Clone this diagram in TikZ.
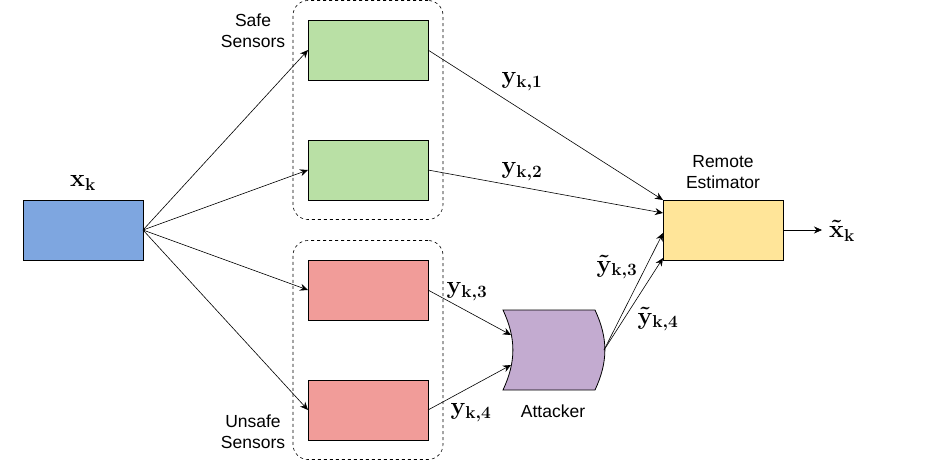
\documentclass[tikz,border=0pt]{standalone}
\usepackage{amsmath}
\usepackage{fontspec}
\usepackage{tikz}
\newfontfamily\blockfont{Liberation Sans}
\usetikzlibrary{arrows.meta}
\definecolor{statecol}{HTML}{7EA6E0}
\definecolor{safecol}{HTML}{B9E0A5}
\definecolor{unsafecol}{HTML}{F19C99}
\definecolor{attackcol}{HTML}{C3ABD0}
\definecolor{estcol}{HTML}{FFE599}
\tikzstyle{block}=[draw, line width=0.8pt, inner sep=0, outer sep=0, minimum width=120pt, minimum height=60pt]
\tikzstyle{safe}=[block, fill=safecol]
\tikzstyle{unsafe}=[block, fill=unsafecol]
\tikzstyle{sensorgroup}=[draw, dashed, rounded corners=15pt, line width=0.6pt, inner sep=0, minimum width=150pt, minimum height=219pt]
\tikzstyle{signal}=[-{Stealth[length=8pt, width=7pt]}, line width=0.6pt]
\tikzstyle{blocklabel}=[font=\blockfont\fontsize{17.5}{21}\selectfont, align=center, inner sep=0]
\tikzstyle{mathlabel}=[font=\fontsize{24}{28}\selectfont\boldmath, inner sep=0]

\begin{document}
\begin{tikzpicture}[x=1pt, y=-1pt]
        \useasboundingbox (0,0) rectangle (951,461);
        \node[block, fill=statecol] (X) at (83,230) {};
        \node[mathlabel] (Xlab) at (83,183) {$\mathbf{x}_{\mathbf{k}}$};
        % sensor groups
        \node[sensorgroup] (safegrp) at (368,110) {};
        \node[sensorgroup] (unsafegrp) at (368,350) {};
        \node[blocklabel] (safelab) at (253,31) {Safe\\Sensors};
        \node[blocklabel] (unsafelab) at (253,432) {Unsafe\\Sensors};
        \foreach \i/\y in {1/50, 2/170} \node[safe] (S\i) at (368,\y) {};
        \foreach \i/\y in {3/290, 4/410} \node[unsafe] (S\i) at (368,\y) {};
        % attacker
        \draw[fill=attackcol, line width=0.8pt] (503,310) -- (595,310) to[bend left=25] (595,390)
            -- (503,390) to[bend right=25] (503,310) -- cycle;
        \coordinate (Ain1) at (511,335);
        \coordinate (Ain2) at (511,365);
        \coordinate (Aout) at (604,350);
        \node[blocklabel] (Alab) at (553,411) {Attacker};
        % estimator
        \node[block, fill=estcol] (E) at (723,230) {};
        \node[blocklabel] (Elab) at (723,172) {Remote\\Estimator};
        \coordinate (Xout) at (822,230);
        \foreach \i in {1,...,4} \draw[signal] (X.east) -- (S\i.west);
        \draw[signal] (S1.east) -- (E.north west);
        \draw[signal] (S2.east) -- ([yshift=-13pt]E.north west);
        \draw[signal] (S3.east) -- (Ain1);
        \draw[signal] (S4.east) -- (Ain2);
        \draw[signal] (Aout) -- ([yshift=-3pt]E.west);
        \draw[signal] (Aout) -- ([yshift=2pt]E.south west);
        \draw[signal] (E.east) -- (Xout);
        \node[mathlabel] (y1) at (522,82) {$\mathbf{y}_{\mathbf{k,1}}$};
        \node[mathlabel] (y2) at (522,172) {$\mathbf{y}_{\mathbf{k,2}}$};
        \node[mathlabel] (y3) at (467,292) {$\mathbf{y}_{\mathbf{k,3}}$};
        \node[mathlabel] (y4) at (471,413) {$\mathbf{y}_{\mathbf{k,4}}$};
        \node[mathlabel] (ty3) at (617,267) {$\tilde{\mathbf{y}}_{\mathbf{k,3}}$};
        \node[mathlabel] (ty4) at (658,319) {$\tilde{\mathbf{y}}_{\mathbf{k,4}}$};
        \node[mathlabel] (Xtlab) at (842,231) {$\tilde{\mathbf{x}}_{\mathbf{k}}$};
    \end{tikzpicture}
\end{document}
